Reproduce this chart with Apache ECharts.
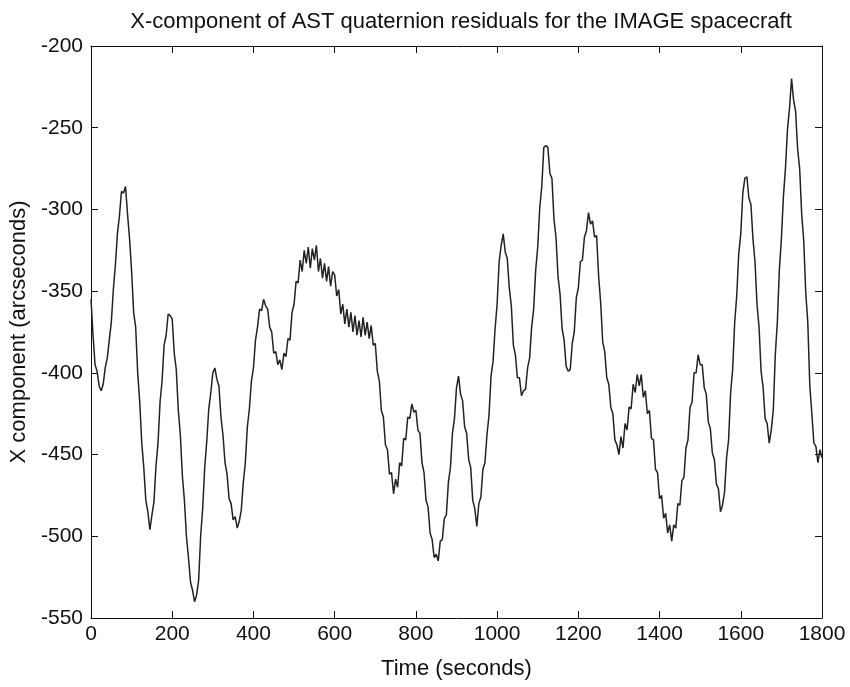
<!DOCTYPE html>
<html>
<head>
<meta charset="utf-8">
<script src="https://cdn.jsdelivr.net/npm/echarts@6/dist/echarts.min.js"></script>
<style>html,body{margin:0;padding:0;background:#fff;}#c{width:850px;height:687px;}</style>
</head>
<body>
<div id="c"></div>
<script>
const titleText = 'X-component of AST quaternion residuals for the IMAGE spacecraft';
const xName = 'Time (seconds)';
const yName = 'X component (arcseconds)';
const xTicks = [0, 200, 400, 600, 800, 1000, 1200, 1400, 1600, 1800];
const yTicks = [-550, -500, -450, -400, -350, -300, -250, -200];
const timeStep = 5; // seconds between samples
// residual values, every 5 s from t=0 to t=1800
const residuals = [
  -355,-377,-395,-399,-408,-411,-407,-397,-391,-380,-369,-349,-334,-315,-304,-289,-290,-286,-303,-318,
  -338,-363,-372,-400,-418,-443,-458,-478,-485,-496,-487,-479,-457,-443,-418,-405,-383,-377,-364,-365,
  -367,-388,-398,-423,-438,-463,-478,-500,-513,-528,-533,-540,-536,-527,-500,-483,-458,-442,-422,-412,
  -400,-397,-404,-408,-427,-438,-455,-462,-477,-480,-490,-488,-495,-491,-484,-467,-455,-433,-422,-405,
  -397,-380,-372,-361,-362,-355,-359,-361,-372,-375,-388,-387,-395,-392,-398,-388,-390,-379,-380,-363,
  -358,-344,-345,-331,-338,-325,-333,-323,-336,-324,-331,-322,-338,-330,-342,-333,-344,-335,-347,-338,
  -340,-353,-349,-364,-358,-370,-361,-372,-363,-375,-365,-377,-368,-378,-366,-377,-369,-379,-371,-383,
  -382,-399,-405,-423,-427,-444,-447,-462,-461,-474,-465,-470,-455,-457,-440,-441,-427,-428,-419,-424,
  -423,-435,-437,-455,-461,-478,-482,-498,-502,-513,-511,-515,-503,-502,-489,-487,-467,-458,-437,-428,
  -409,-402,-413,-417,-433,-437,-453,-458,-478,-483,-494,-480,-476,-459,-455,-438,-426,-402,-393,-373,
  -358,-332,-322,-315,-326,-330,-348,-359,-383,-389,-403,-403,-414,-411,-410,-397,-391,-372,-361,-337,
  -323,-299,-286,-262,-261,-262,-278,-281,-306,-317,-341,-352,-373,-380,-396,-399,-398,-382,-375,-354,
  -348,-332,-331,-317,-313,-302,-309,-307,-317,-316,-341,-357,-381,-387,-403,-407,-421,-425,-441,-444,
  -450,-439,-446,-431,-435,-421,-422,-407,-412,-401,-408,-401,-415,-411,-425,-423,-440,-441,-459,-461,
  -477,-475,-489,-486,-498,-493,-503,-493,-495,-480,-481,-466,-464,-446,-441,-421,-418,-400,-400,-389,
  -395,-395,-409,-413,-430,-434,-449,-453,-468,-471,-485,-481,-473,-452,-441,-412,-398,-369,-353,-327,
  -315,-290,-281,-280,-293,-297,-318,-332,-358,-372,-399,-409,-428,-431,-443,-435,-423,-389,-369,-337,
  -318,-292,-275,-251,-238,-220,-233,-240,-263,-275,-303,-319,-351,-369,-408,-425,-443,-445,-455,-447,
  -452
];

const seriesData = residuals.map((v, i) => [i * timeStep, v]);
const font = 'Liberation Sans, Arial, Helvetica, sans-serif';
const ink = '#111';

const chart = echarts.init(document.getElementById('c'), null, {renderer: 'canvas'});
const tickStyle = {show: true, inside: true, length: 7, lineStyle: {color: ink, width: 1}};
const lineStyleAxis = {show: true, onZero: false, lineStyle: {color: ink, width: 1}};
chart.setOption({
  backgroundColor: '#fff',
  animation: false,
  title: {
    text: titleText, left: 456, top: 6, textAlign: 'center',
    textStyle: {fontFamily: font, fontSize: 22, fontWeight: 'normal', color: ink}
  },
  grid: {left: 91, right: 28, top: 46, bottom: 69, containLabel: false},
  xAxis: [{
    type: 'value', min: xTicks[0], max: xTicks[xTicks.length - 1], interval: 200,
    position: 'bottom',
    name: xName, nameLocation: 'middle', nameGap: 40,
    nameTextStyle: {fontFamily: font, fontSize: 22, color: ink},
    axisLine: lineStyleAxis, axisTick: tickStyle,
    axisLabel: {fontFamily: font, fontSize: 21, color: ink, margin: 6, formatter: v => String(v)},
    splitLine: {show: false}
  }, {
    type: 'value', min: xTicks[0], max: xTicks[xTicks.length - 1], interval: 200,
    position: 'top',
    axisLine: lineStyleAxis, axisTick: tickStyle,
    axisLabel: {show: false}, splitLine: {show: false}
  }],
  yAxis: [{
    type: 'value', min: yTicks[0], max: yTicks[yTicks.length - 1], interval: 50,
    position: 'left',
    name: yName, nameLocation: 'middle', nameGap: 57,
    nameTextStyle: {fontFamily: font, fontSize: 22, color: ink},
    axisLine: lineStyleAxis, axisTick: tickStyle,
    axisLabel: {fontFamily: font, fontSize: 21, color: ink, margin: 8, formatter: v => String(v)},
    splitLine: {show: false}
  }, {
    type: 'value', min: yTicks[0], max: yTicks[yTicks.length - 1], interval: 50,
    position: 'right',
    axisLine: lineStyleAxis, axisTick: tickStyle,
    axisLabel: {show: false}, splitLine: {show: false}
  }],
  series: [{
    type: 'line', data: seriesData, xAxisIndex: 0, yAxisIndex: 0,
    showSymbol: false, symbol: 'none',
    lineStyle: {color: '#222', width: 1.5}
  }]
});
</script>
</body>
</html>
